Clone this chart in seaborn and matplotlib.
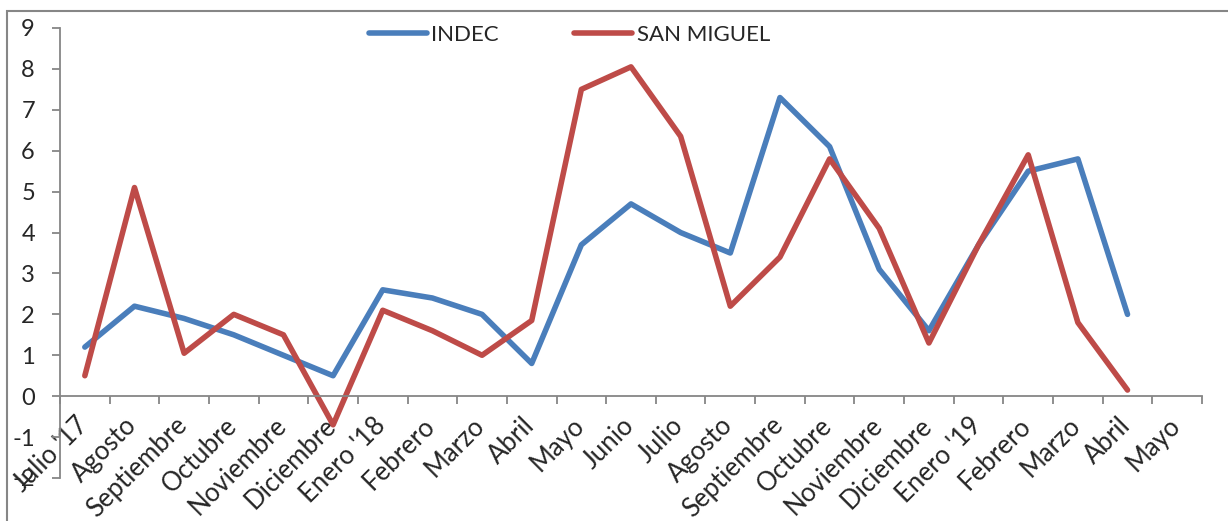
import numpy as np
import pandas as pd
import seaborn as sns
import matplotlib.pyplot as plt
import matplotlib.transforms as mtransforms
from matplotlib.patches import Rectangle

# datos del grafico (inflacion mensual %)
meses = ["Julio '17", "Agosto", "Septiembre", "Octubre", "Noviembre", "Diciembre",
         "Enero '18", "Febrero", "Marzo", "Abril", "Mayo", "Junio", "Julio", "Agosto",
         "Septiembre", "Octubre", "Noviembre", "Diciembre", "Enero '19", "Febrero",
         "Marzo", "Abril", "Mayo"]
indec = [1.2, 2.2, 1.9, 1.5, 1.0, 0.5, 2.6, 2.4, 2.0, 0.8, 3.7, 4.7, 4.0, 3.5,
         7.3, 6.1, 3.1, 1.6, 3.7, 5.5, 5.8, 2.0]
san_miguel = [0.5, 5.1, 1.05, 2.0, 1.5, -0.7, 2.1, 1.6, 1.0, 1.85, 7.5, 8.05, 6.35, 2.2,
              3.4, 5.8, 4.1, 1.3, 3.7, 5.9, 1.8, 0.15]
y_ticks = list(range(-2, 10))

df = pd.concat([
    pd.DataFrame({"idx": range(len(indec)), "valor": indec, "serie": "INDEC"}),
    pd.DataFrame({"idx": range(len(san_miguel)), "valor": san_miguel, "serie": "SAN MIGUEL"}),
])

sns.set_style("white")
plt.rcParams["font.family"] = ["Lato", "DejaVu Sans"]

W, H = 1228, 521
fig = plt.figure(figsize=(W / 100, H / 100), dpi=100)
ax = fig.add_axes([60 / W, 1 - 478 / H, (1202 - 60) / W, (478 - 28) / H])

sns.lineplot(data=df, x="idx", y="valor", hue="serie",
             palette={"INDEC": "#4A7EBB", "SAN MIGUEL": "#BE4B48"},
             linewidth=4, ax=ax, legend=True)

ax.set_xlim(-0.5, len(meses) - 0.5)
ax.set_ylim(-2, 9)
ax.set_xlabel("")
ax.set_ylabel("")

gris = "#868686"
for s in ["top", "right"]:
    ax.spines[s].set_visible(False)
ax.spines["bottom"].set_position(("data", 0))
ax.spines["bottom"].set_color(gris)
ax.spines["left"].set_color(gris)
ax.spines["bottom"].set_linewidth(1.3)
ax.spines["left"].set_linewidth(1.3)

ax.set_yticks(y_ticks)
ax.set_yticklabels([str(v) for v in y_ticks], fontsize=17)
ax.tick_params(axis="y", direction="out", length=6, width=1.3, color=gris, pad=12, left=True)

ax.set_xticks(np.arange(-0.5, len(meses)), minor=False)
ax.set_xticklabels([])
ax.set_xticks(np.arange(len(meses)), minor=True)
ax.set_xticklabels(meses, minor=True, rotation=45, ha="right",
                   rotation_mode="anchor", fontsize=18.5)
ax.tick_params(axis="x", which="major", direction="out", length=6, width=1.3,
               color=gris, bottom=True)
ax.tick_params(axis="x", which="minor", length=0, pad=12)
# desplazar etiquetas un poco a la izquierda
desplaz = mtransforms.ScaledTranslation(-0.10, 0, fig.dpi_scale_trans)
for lbl in ax.get_xticklabels(minor=True):
    lbl.set_transform(lbl.get_transform() + desplaz)

leg = ax.legend(loc="center left", bbox_to_anchor=(360 / W, 1 - 35 / H),
                bbox_transform=fig.transFigure, ncol=2, borderaxespad=0,
                frameon=False, fontsize=16, handlelength=2.6, handletextpad=0.2,
                columnspacing=3.4)
for line in leg.get_lines():
    line.set_linewidth(4)

# borde del area del grafico
fig.patches.append(Rectangle((7 / W, -0.1), 1.2, 1.1 - 11 / H, transform=fig.transFigure,
                             fill=False, edgecolor=gris, linewidth=1.5))

fig.savefig("out.png", dpi=100)
